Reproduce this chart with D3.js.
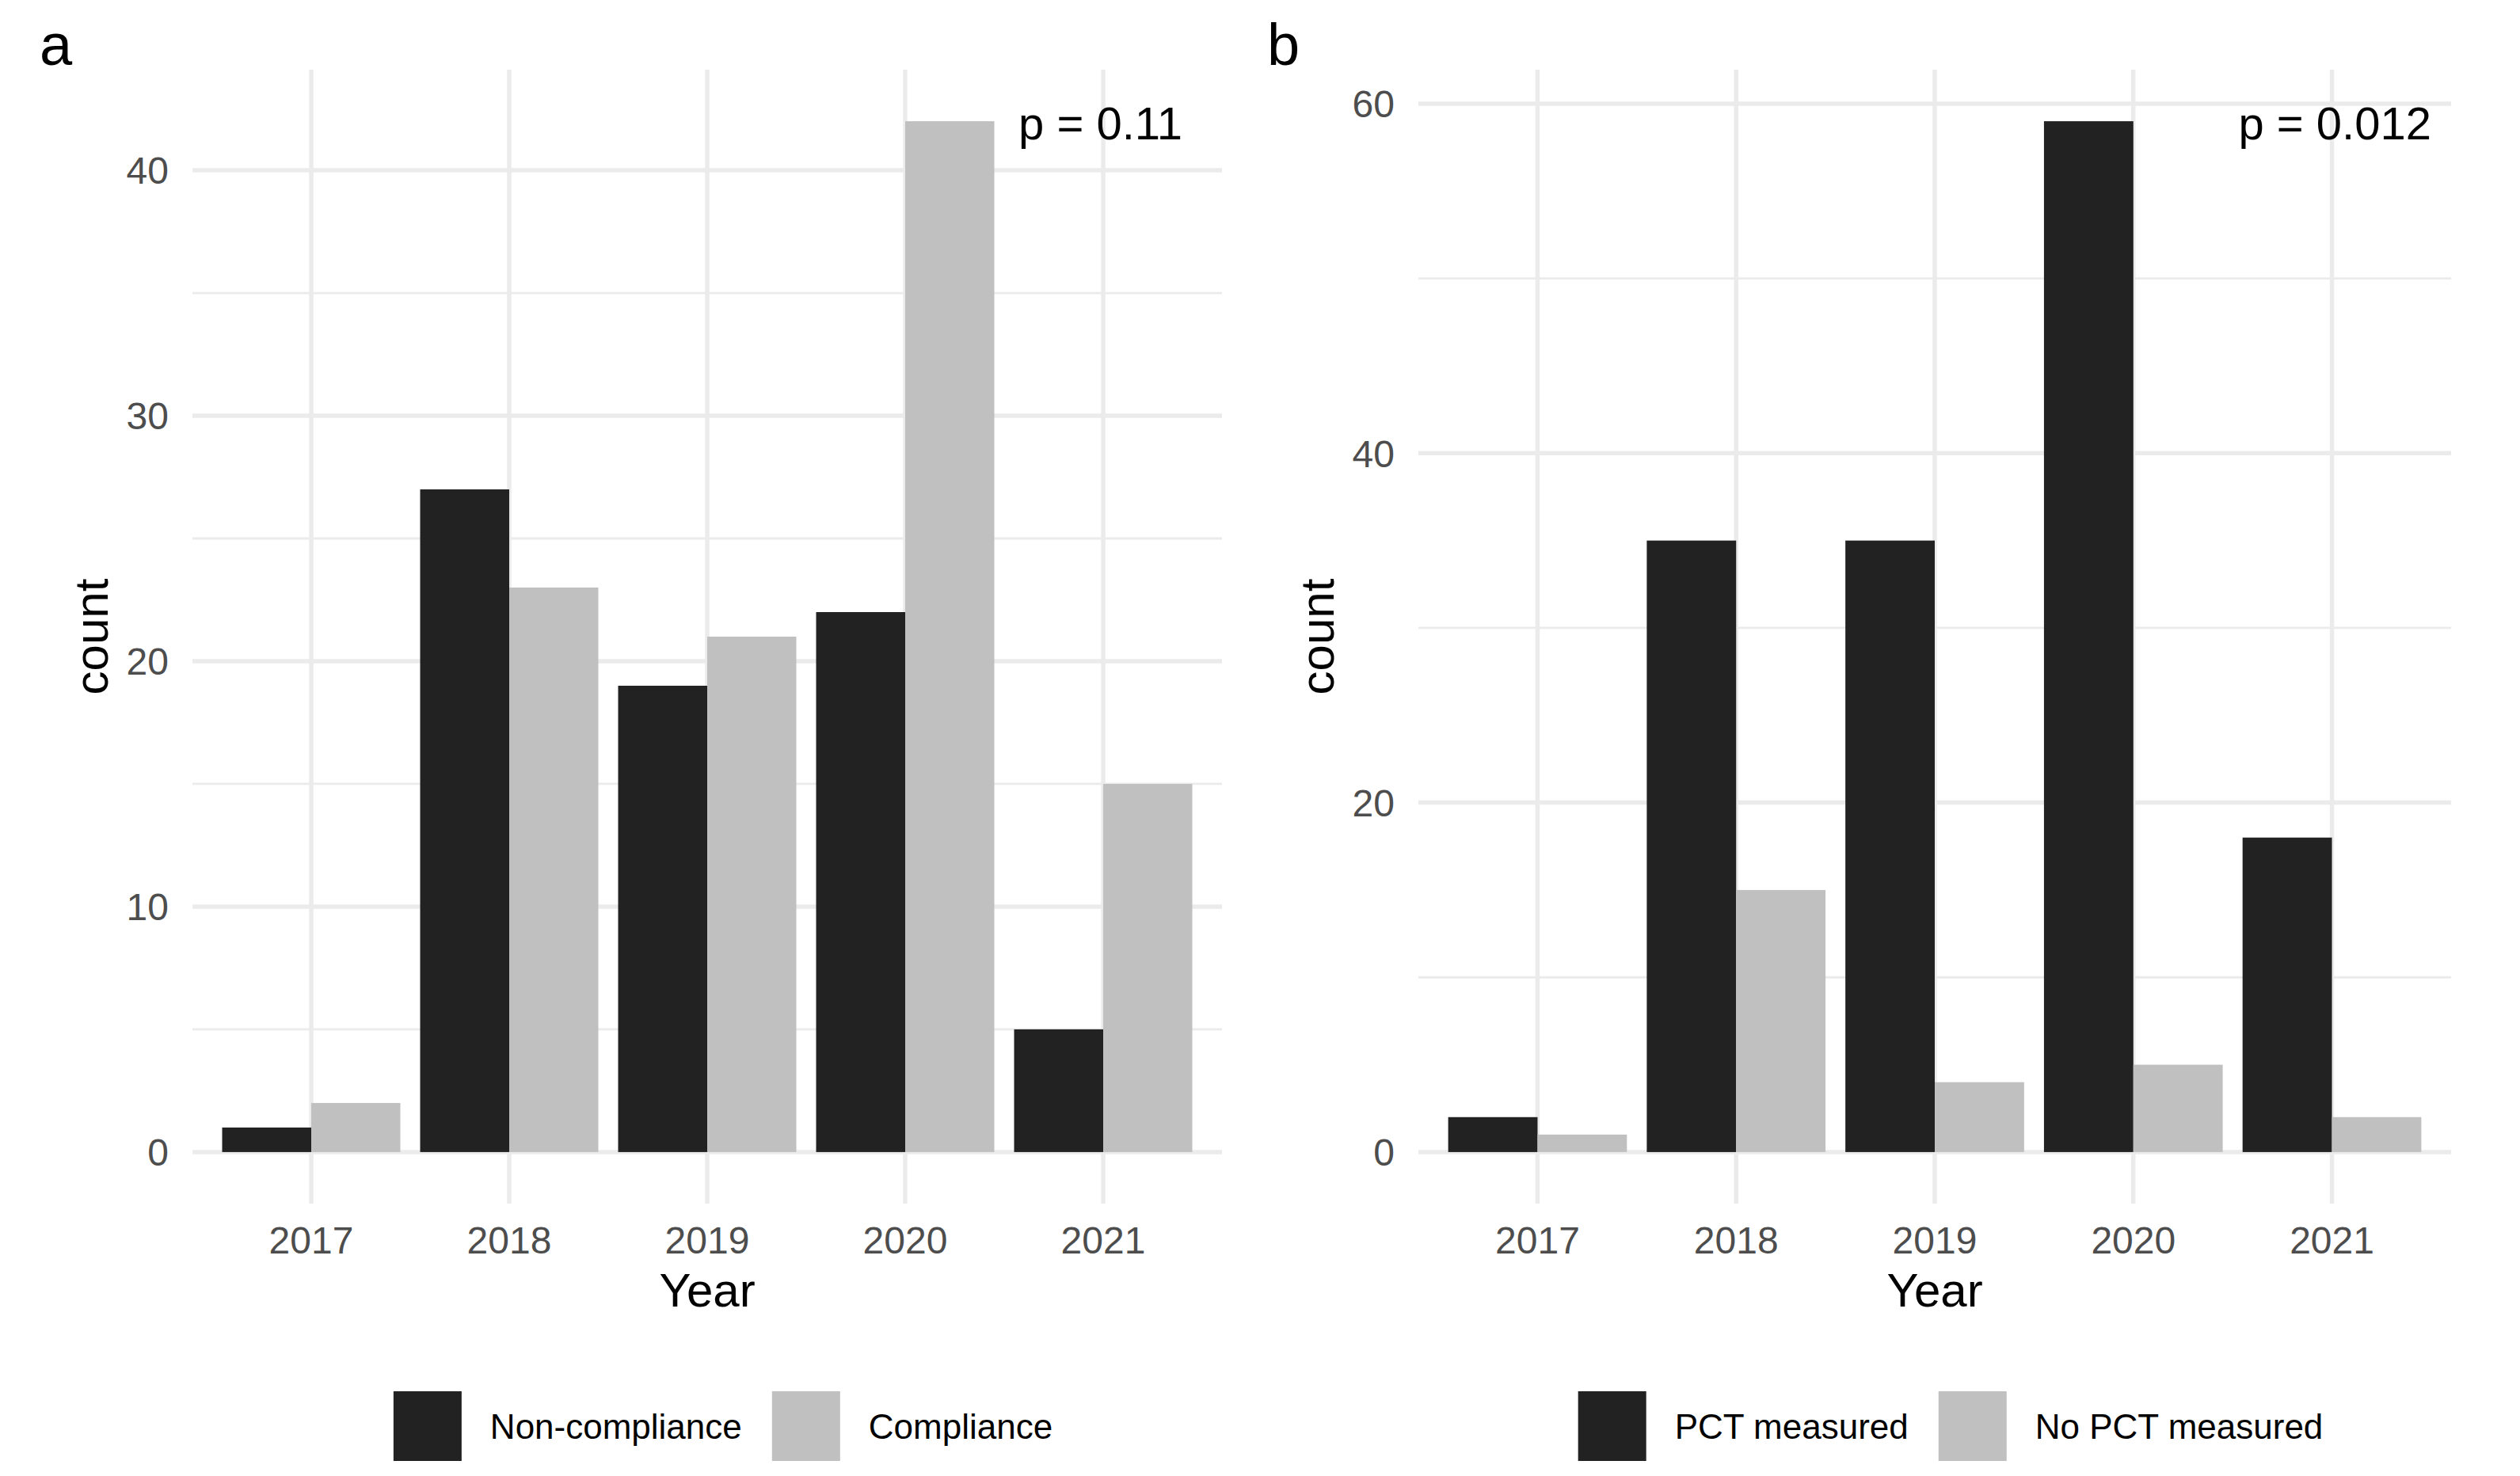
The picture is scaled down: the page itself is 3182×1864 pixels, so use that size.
<!DOCTYPE html>
<html>
<head>
<meta charset="utf-8">
<script src="https://cdn.jsdelivr.net/npm/d3@7"></script>
<style>
  body { margin: 0; background: #fff; }
  text { font-family: "Liberation Sans", Arial, sans-serif; }
</style>
</head>
<body>
<script>
// chart values
var years = ["2017", "2018", "2019", "2020", "2021"];

var nonCompliance = [1, 27, 19, 22, 5];
var compliance = [2, 23, 21, 42, 15];

var pctMeasured = [2, 35, 35, 59, 18];
var noPctMeasured = [1, 15, 4, 5, 2];

var ticksA = [0, 10, 20, 30, 40];
var ticksB = [0, 20, 40, 60];

var W = 3182, H = 1864;
var fills = ["#222222", "#c0c0c0"];

var svg = d3.select("body").append("svg")
    .attr("width", W)
    .attr("height", H);

// draws one ggplot-like panel
function panel(opt) {
    var left = opt.left, right = opt.right, top = 88, bottom = 1520;
    var g = svg.append("g");

    var maxV = d3.max(opt.series, function(s){ return d3.max(s); });
    var pad = maxV * 0.05;
    var y = d3.scaleLinear()
        .domain([-pad, maxV + pad])
        .range([bottom, top]);

    var x = d3.scaleBand()
        .domain(years)
        .range([left, right])
        .paddingInner(0.1)
        .paddingOuter(0.15);

    var sub = d3.scaleBand()
        .domain([0, 1])
        .range([0, x.bandwidth()]);

    // minor gridlines, half way between major ticks
    var stepT = opt.ticks[1] - opt.ticks[0];
    var minor = [];
    for (var t = opt.ticks[0] + stepT / 2; t < maxV + pad; t += stepT) minor.push(t);

    g.selectAll(".minor").data(minor).enter().append("line")
        .attr("x1", left).attr("x2", right)
        .attr("y1", function(d){ return y(d); })
        .attr("y2", function(d){ return y(d); })
        .style("stroke", "#ebebeb").style("stroke-width", 2.8);

    g.selectAll(".major").data(opt.ticks).enter().append("line")
        .attr("x1", left).attr("x2", right)
        .attr("y1", function(d){ return y(d); })
        .attr("y2", function(d){ return y(d); })
        .style("stroke", "#ebebeb").style("stroke-width", 5.5);

    g.selectAll(".vgrid").data(years).enter().append("line")
        .attr("x1", function(d){ return x(d) + x.bandwidth() / 2; })
        .attr("x2", function(d){ return x(d) + x.bandwidth() / 2; })
        .attr("y1", top).attr("y2", bottom)
        .style("stroke", "#ebebeb").style("stroke-width", 5.5);

    // bars
    opt.series.forEach(function(vals, si){
        g.selectAll(".bar" + si).data(vals).enter().append("rect")
            .attr("x", function(d, i){ return x(years[i]) + sub(si); })
            .attr("width", sub.bandwidth())
            .attr("y", function(d){ return y(d); })
            .attr("height", function(d){ return y(0) - y(d); })
            .style("fill", fills[si]);
    });

    // y tick labels
    g.selectAll(".ytick").data(opt.ticks).enter().append("text")
        .attr("x", left - 30)
        .attr("y", function(d){ return y(d); })
        .attr("dy", "0.36em")
        .attr("text-anchor", "end")
        .style("font-size", "48px")
        .style("fill", "#4d4d4d")
        .text(function(d){ return d; });

    // x tick labels
    g.selectAll(".xtick").data(years).enter().append("text")
        .attr("x", function(d){ return x(d) + x.bandwidth() / 2; })
        .attr("y", 1583)
        .attr("text-anchor", "middle")
        .style("font-size", "48px")
        .style("fill", "#4d4d4d")
        .text(function(d){ return d; });

    // axis titles
    g.append("text")
        .attr("x", (left + right) / 2)
        .attr("y", 1650)
        .attr("text-anchor", "middle")
        .style("font-size", "60px")
        .text("Year");

    g.append("text")
        .attr("transform", "translate(" + (left - 107) + "," + ((top + bottom) / 2) + ") rotate(-90)")
        .attr("text-anchor", "middle")
        .style("font-size", "60px")
        .text("count");

    // p value
    g.append("text")
        .attr("x", opt.pRight)
        .attr("y", 176)
        .attr("text-anchor", "end")
        .style("font-size", "58px")
        .text(opt.pText);

    // tag
    g.append("text")
        .attr("x", opt.tagX)
        .attr("y", 82)
        .style("font-size", "74px")
        .text(opt.tag);

    // legend at the bottom
    var leg = g.append("g");
    var keyW = 86, keyH = 88, keyTop = 1757, gapText = 36, gapItem = 38;
    var cx = 0;
    opt.labels.forEach(function(lab, i){
        leg.append("rect")
            .attr("x", cx).attr("y", keyTop)
            .attr("width", keyW).attr("height", keyH)
            .style("fill", fills[i]);
        var t = leg.append("text")
            .attr("x", cx + keyW + gapText)
            .attr("y", 1817)
            .style("font-size", "44px")
            .text(lab);
        cx += keyW + gapText + t.node().getComputedTextLength() + gapItem;
    });
    var legW = cx - gapItem;
    leg.attr("transform", "translate(" + ((left + right) / 2 + 20 - legW / 2) + ",0)");
}

panel({
    left: 243, right: 1543,
    series: [nonCompliance, compliance],
    ticks: ticksA,
    labels: ["Non-compliance", "Compliance"],
    pText: "p = 0.11", pRight: 1493,
    tag: "a", tagX: 50
});

panel({
    left: 1791, right: 3095,
    series: [pctMeasured, noPctMeasured],
    ticks: ticksB,
    labels: ["PCT measured", "No PCT measured"],
    pText: "p = 0.012", pRight: 3070,
    tag: "b", tagX: 1600
});
</script>
</body>
</html>
